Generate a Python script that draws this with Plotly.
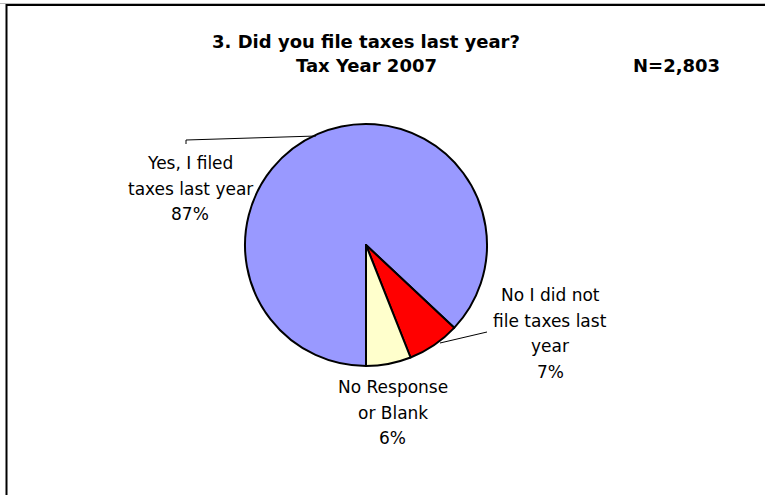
import plotly.graph_objects as go

# Survey responses, tax year 2007
categories = ["Yes, I filed taxes last year", "No I did not file taxes last year", "No Response or Blank"]
label_lines = [["Yes, I filed", "taxes last year"],
               ["No I did not", "file taxes last", "year"],
               ["No Response", "or Blank"]]
percents = [87, 7, 6]
colors = ["#9999FF", "#FF0000", "#FFFFCC"]
title_lines = ["3. Did you file taxes last year?", "Tax Year 2007"]
sample_size = "N=2,803"

W, H = 765, 495
FONT = "DejaVu Sans, Verdana, sans-serif"
LINE_GAP = 25.5

def px(x):
    return x / W

def py(y):
    return 1 - y / H

fig = go.Figure(go.Pie(
    labels=categories,
    values=percents,
    sort=False,
    direction="clockwise",
    rotation=180,
    marker=dict(colors=colors, line=dict(color="black", width=2)),
    textinfo="none",
    hoverinfo="label+percent",
    showlegend=False,
    domain=dict(x=[px(245), px(487)], y=[py(366), py(124)]),
))

annotations = []

def add_lines(lines, cx, y_first, size, bold=False, gap=LINE_GAP):
    for i, line in enumerate(lines):
        annotations.append(dict(
            x=px(cx), y=py(y_first + i * gap), xref="paper", yref="paper",
            text=f"<b>{line}</b>" if bold else line,
            showarrow=False, xanchor="center", yanchor="middle",
            font=dict(family=FONT, size=size, color="#000000"),
        ))

# Outside labels: name lines followed by the percentage
label_pos = [(190, 163), (550, 295), (393, 387)]
for lines, pct, (lx, ly) in zip(label_lines, percents, label_pos):
    add_lines(lines + [f"{pct}%"], lx, ly, 17)

add_lines(title_lines, 366, 42, 18, bold=True, gap=24)
add_lines([sample_size], 676, 66, 18, bold=True)

shapes = [
    # chart frame
    dict(type="line", xref="paper", yref="paper", x0=px(0), x1=1.05, y0=py(3.5), y1=py(3.5),
         line=dict(color="#BBBBBB", width=1)),
    dict(type="line", xref="paper", yref="paper", x0=px(6), x1=1.05, y0=py(5), y1=py(5),
         line=dict(color="black", width=2)),
    dict(type="line", xref="paper", yref="paper", x0=px(6.5), x1=px(6.5), y0=py(4), y1=-0.05,
         line=dict(color="black", width=2)),
    # leader lines
    dict(type="path", xref="paper", yref="paper",
         path=f"M {px(186)},{py(144)} L {px(186)},{py(140)} L {px(316)},{py(136)}",
         line=dict(color="black", width=1)),
    dict(type="line", xref="paper", yref="paper", x0=px(440), y0=py(343), x1=px(487), y1=py(332),
         line=dict(color="black", width=1)),
]

fig.update_layout(
    width=W, height=H,
    margin=dict(l=0, r=0, t=0, b=0),
    paper_bgcolor="white", plot_bgcolor="white",
    annotations=annotations, shapes=shapes,
)

fig.write_html("out.html")
